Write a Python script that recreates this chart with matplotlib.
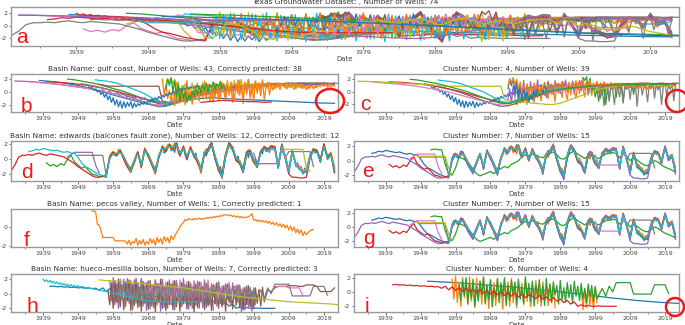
import numpy as np
import matplotlib
matplotlib.use("Agg")
import matplotlib.pyplot as plt
from matplotlib.patches import Ellipse

plt.rcParams["axes.unicode_minus"] = False

# ---------------- data: each well = list of (start_year, step_years, values) ----------------
# Gulf coast basin wells
gc_blue = [(1938, 2, [1.8, 1.7, 1.6, 1.45, 1.3, 1.1, 0.9, 0.6, 0.3, 0.0, -0.3, -0.6, -0.9, -1.2, -1.5, -1.8,
                      -2.0, -2.2, -2.1, -1.8, -1.5, -1.3, -1.1, -1.0, -0.9, -0.9, -1.0, -1.05, -1.1, -1.15,
                      -1.2, -1.25, -1.3, -1.35, -1.4, -1.45, -1.5, -1.55, -1.6, -1.65, -1.7, -1.72, -1.75])]
gc_orange = [(1973, 0.5, [2.0, -0.5, 1.2, -1.0, 0.3, -1.8, 0.8, -1.2, 1.5, -0.8, 0.2, -1.5, 1.0, -0.6, 1.8, -1.0,
                          0.5, -1.9, 0.9, -0.3, 1.4, -1.2, 0.6, -0.8, 1.7, -0.4, 1.1, -1.5, 0.3, 1.5, -0.7, 1.0,
                          -1.3, 1.6, 0.0, 1.2, -0.9, 1.8, -0.2, 0.9, -1.6, 1.3, 0.2, 1.9, -0.5, 1.0, -1.8, 1.5,
                          -0.3, 2.0, -1.0, 0.8, -1.4, 1.7, 0.1, 1.2, -0.6, 1.9, -1.2, 0.7, 1.5, -0.4, 1.1, 0.3,
                          1.4, 0.6, 1.2, 0.4, 1.3, 0.8, 1.1, 0.5, 1.3, 0.7, 1.0, 0.4, 1.2, 0.9, 1.3, 0.6, 1.1,
                          0.8, 1.2, 0.5, 1.0, 0.9, 1.3, 0.7, 1.1])]
gc_green = [(1946, 2, [2.0, 1.9, 1.7, 1.5, 1.3, 1.0, 0.7, 0.4, 0.1, -0.3, -0.7, -1.1, -1.5, -1.8, -1.9, -1.6,
                       -1.2, -0.8, -0.5, -0.2, 0.1, 0.3, 0.5, 0.6, 0.7, 0.8, 0.9, 1.0, 1.0, 1.1, 1.1, 1.1,
                       1.2, 1.2, 1.1, 1.2, 1.2, 1.1])]
gc_red = [(1940, 2, [1.6, 1.55, 1.5, 1.4, 1.3, 1.15, 1.0, 0.8, 0.6, 0.35, 0.1, -0.2, -0.5, -0.8, -1.1, -1.4,
                     -1.6, -1.7, -1.5, -1.2, -0.9, -0.6, -0.3, 0.0, 0.2, 0.4, 0.6, 0.7, 0.8, 0.9, 1.0, 1.1,
                     1.15, 1.2, 1.2, 1.25, 1.3, 1.3, 1.25, 1.3, 1.3, 1.2])]
gc_purple = [(1931, 1, [1.7, 1.7, 1.68, 1.65, 1.62, 1.6, 1.55, 1.5, 1.45, 1.4, 1.35, 1.3, 1.22, 1.15, 1.08, 1.0,
                        0.92, 0.85, 0.78, 0.7, 0.62, 0.55, 0.45, 0.35,
                        0.1, 0.35, -0.1, 0.1, -0.35, -0.1, -0.55, -0.3, -0.75, -0.5, -0.95, -0.7, -1.15, -0.9,
                        -1.35, -1.1, -1.5, -1.3, -1.7, -1.5, -1.6,
                        -1.5, -1.4, -1.3, -1.2, -1.0, -0.9, -0.8, -0.6, -0.5, -0.4, -0.3, -0.2, -0.1, 0.0, 0.1,
                        0.2, 0.3, 0.35, 0.4, 0.5, 0.55, 0.6, 0.7, 0.75, 0.8, 0.85, 0.9, 0.95, 1.0, 1.0, 1.05,
                        1.1, 1.1, 1.1, 1.15, 1.2, 1.2, 1.2, 1.25, 1.2, 1.25, 1.3, 1.25, 1.3, 1.3, 1.25, 1.3])]
gc_brown = [(1955, 1, [1.2, 1.1, 1.0, 0.9, 0.9, 0.9, 0.9, 0.9, 0.9, 0.9, 0.9, 0.9, 0.9, 0.9, 0.9, 0.9, 0.9, 0.9,
                       -1.4, -1.6, -1.7, -1.6, -1.4, -1.2, -1.0, -0.8, -0.6, -0.4, -0.2, 0.0, 0.2, 0.3, 0.4,
                       0.5, 0.6, 0.7, 0.8, 0.85, 0.9, 0.95, 1.0, 1.05, 1.1, 1.1, 1.15, 1.2, 1.2, 1.2, 1.25,
                       1.3, 1.3, 1.35, 1.3, 1.35, 1.4, 1.4, 1.35, 1.4, 1.4, 1.35, 1.4, 1.4, 1.4, 1.35, 1.4,
                       1.4, 1.3, 1.35])]
gc_pink = [(1935, 2, [1.6, 1.5, 1.4, 1.3, 1.2, 1.1, 0.95, 0.8, 0.6, 0.4, 0.2, 0.0, -0.3, -0.6, -0.9, -1.2,
                      -1.5, -1.8, -2.0, -1.9, -1.6, -1.3, -1.0, -0.7, -0.4, -0.2, 0.0, 0.2, 0.4, 0.5, 0.6,
                      0.7, 0.8, 0.9, 1.0, 1.0, 1.1, 1.1, 1.2, 1.2])]
gc_gray = [(1950, 2, [1.3, 1.1, 0.9, 0.6, 0.3, 0.0, -0.4, -0.8, -1.2, -1.6, -2.0, -2.3, -2.2, -1.9, -1.5,
                      -1.1, -0.7, -0.4, -0.1, 0.2, 0.4, 0.6, 0.7, 0.9, 1.0, 1.1, 1.2, 1.2, 1.3, 1.3, 1.3,
                      1.4, 1.4, 1.3, 1.4, 1.3, 1.4, 1.3])]
gc_olive = [(1974, 0.5, [1.0, 2.1, 1.5, 2.2, 1.2, 2.0, 0.5, 1.6, -0.2, 1.0, 0.3, 1.3, -0.5, 0.8, 0.2, 1.4, 0.5,
                         1.1, -0.3, 0.9, 0.4, 1.5, 0.6, 1.2, 0.0, 1.0, 0.7, 1.6, 0.3, 1.1, 0.8, 1.7, 0.2, 1.2,
                         0.9, 1.5, 0.4, 1.3, 1.0, 1.8, 0.5, 1.4, 0.9, 2.0, 0.3, 1.5, 1.1, 1.8, 0.6, 1.3, 1.0,
                         1.6, 0.7, 1.4, 1.1, 1.5, 0.8, 1.3, 1.0, 1.4, 0.9, 1.2, 0.5, 1.3, 0.9, 1.4, 1.0, 1.2,
                         0.6, 1.1, 0.8, 1.3, 0.9, 1.0, 0.5, 0.9, 0.7, 1.1, 0.6, 0.8, 0.4, 0.7])]
gc_cyan = [(1954, 1, [1.9, 1.8, 1.75, 1.7, 1.6, 1.5, 1.4, 1.2, 1.0, 0.8, 0.6, 0.4, 0.2, 0.0, -0.3, -0.6, -0.9,
                      -1.2, -1.5, -1.7, -1.8, -1.6, -1.4, -1.2, -1.0, -0.8, -0.6, -0.4, -0.2, 0.0, 0.1, 0.2,
                      0.3, 0.4, 0.5, 0.6, 0.7])]
gc_blue2 = [(1952, 0.5, [0.8, 0.6, 0.7, 0.3, 0.5, 0.0, 0.3, -0.4, 0.0, -0.8, -0.3, -1.2, -0.6, -1.6, -0.9, -2.0,
                         -1.2, -2.3, -1.4, -2.5, -1.5, -2.4, -1.6, -2.2, -1.5, -2.5, -1.7, -2.3, -1.8, -2.1,
                         -1.7, -1.9, -1.5, -1.8, -1.3, -1.6, -1.1, -1.4, -0.9, -1.2, -0.7, -1.0, -0.5, -0.8,
                         -0.3, -0.6, -0.1, -0.4, 0.1, -0.2, 0.3, 0.0, 0.5, 0.2, 0.6, 0.4, 0.7, 0.5, 0.8, 0.6,
                         0.9, 0.7, 1.0, 0.8])]
gc_orange2 = [(1976, 0.5, [-1.0, -2.1, -0.5, -1.8, 0.2, -1.5, -0.3, -2.0, 0.5, -1.2, -0.1, -1.7, 0.8, -0.9, 0.1,
                           -1.4, 1.0, -0.6, 0.3, -1.1, 1.2, -0.4, 0.5, -1.6, 1.4, -0.2, 0.6, -0.9, 1.5, 0.0,
                           -1.2, 1.1, -0.5, 1.6, 0.2, -1.0, 1.3, -0.3, 1.8, 0.4, -0.8, 1.5, 0.0, 1.9, -0.6,
                           1.2, 0.3, 1.7, -0.2, 1.4, 0.5, 1.6, 0.8, 1.3, 0.6, 1.5, 0.9, 1.2, 0.7, 1.4, 0.8,
                           1.3, 1.0, 1.2, 0.9, 1.4, 0.8, 1.1, 1.0, 1.3, 0.7, 1.2, 0.9, 1.1, 0.6, 1.0, 0.4,
                           0.9, 0.6, 1.1, 0.5, 0.9, 0.7, 1.0, 0.8, 1.2, 0.9, 1.3, 0.7, 1.0, 0.8, 1.1, 0.9])]
gc_green2 = [(1974, 0.5, [0.5, 2.0, 1.0, 2.2, 0.0, 1.8, -0.8, 1.2, -1.5, 0.6, -1.0, 0.0, -1.6, -0.5, -1.2, 0.2,
                          -0.8, 0.5, -0.4, 0.9, -0.2, 1.1, 0.3, 1.4, 0.0, 1.2, 0.6, 1.5, 0.4, 1.3, 0.8, 1.6,
                          0.5, 1.2])]
gc_red2 = [(1984, 2, [-1.6, -1.5, -1.4, -1.3, -1.35, -1.4, -1.45, -1.5, -1.5, -1.6, -1.55])]

# extra wells of cluster 4
c_olive = [(1931, 1, [1.7, 1.7, 1.68, 1.66, 1.64, 1.62, 1.6, 1.57, 1.54, 1.5, 1.47, 1.44, 1.4, 1.37, 1.34, 1.3,
                      1.27, 1.24, 1.2, 1.17, 1.14, 1.1, 1.05, 1.0, 0.95,
                      0.9, 0.9, 0.9, 0.9, 0.9, 0.9, 0.9, 0.9, 0.9, 0.9, 0.9, 0.9, 0.9, 0.9, 0.9, 0.9, 0.9,
                      -1.2, -1.4, -1.5, -1.5, -1.6, -1.6, -1.7, -1.7, -1.8, -1.8, -1.9, -1.9, -2.0, -2.0, -2.0,
                      -1.9, -1.8, -1.6, -1.4, -1.2, -1.0, -0.8, -0.6, -0.4, -0.2, 0.0, 0.2, 0.4,
                      0.5, 0.6, 0.7, 0.8, 0.9, 1.0, 1.0, 1.1, 1.1, 1.1, 1.2, 1.2, 1.2, 1.2, 1.2, 1.1, 1.1,
                      1.0, 1.0, 0.9, 0.9, 0.9])]
c_green_noisy = [(1990, 0.5, [0.5, 1.2, 0.3, 1.0, 0.6, 1.4, 0.2, 1.1, 0.8, 1.6, 0.4, 2.3, 1.8, 2.4, 0.9, 2.2, 0.0,
                              1.0, -0.8, 0.5, -1.5, 0.8, -0.5, 1.2, -2.0, 0.6, -1.2, 1.0, 0.3, 1.4, -0.9, 1.1,
                              0.5, 1.3, -1.6, 0.9, 0.4, 1.2, 0.7, 1.3, -0.4, 1.1, 0.8, 1.2])]
c_purple_noisy = [(1974, 0.5, [-1.2, 0.5, -1.8, 1.0, -0.8, 1.5, -1.5, 0.2, -0.5, 1.8, -1.0, 0.8, -0.2, 1.6, -1.3,
                               1.0, 0.0, 1.9, -0.6, 1.2, -0.1, 1.5, -0.9, 1.7, 0.2, 1.1, -0.4, 1.8, 0.3, 1.3,
                               -0.2, 1.6, 0.5, 1.9, 0.0, 1.4, 0.4, 1.7, -0.3, 1.5, 0.6, 1.8, 0.2, 1.2, 0.7,
                               1.6, -0.5, 1.0, 0.4, 1.4])]
c_gray_noisy = [(2000, 0.5, [1.0, -1.0, 0.8, -2.2, 0.5, 1.2, -1.5, 0.9, 0.3, -2.0, 1.1, 0.6, -0.8, 1.2, -1.8, 0.9,
                             0.4, 1.3, -1.2, 1.0, 0.2, 1.4, -2.3, 0.8, 1.2, -0.5, 1.3, 0.7, -1.6, 1.1, 0.5, 1.4,
                             -1.0, 1.2, 0.3, 1.0, -2.0, 0.9, 1.3, -0.6, 1.1, 0.4, 1.2, -1.4, 1.0])]

# Edwards (Balcones fault zone) wells
ed_red = [(1930, 1, [-1.5, -0.8, 0.2, 0.5, 0.5, 0.6, 0.5, 0.7, 0.8, 0.6, 0.5, 0.7, 0.6, 0.5, 0.4, 0.3, 0.0, -0.3,
                     -0.6, -1.0, -1.3, -1.6, -1.9, -2.2, -2.4, -2.4, -2.3,
                     -2.4, 0.3, 0.9, 0.5, 1.1, 0.0, -1.0, -1.7, -0.5, 0.9, -1.0, 1.3, 0.4, -0.8, -1.8, 0.2,
                     1.6, 1.0, 1.9, 1.3, 2.1, 0.5, 1.6, 0.0, 1.5, 0.4, -0.4, -1.6, 0.7, 1.3, 2.1, 0.1, -1.5,
                     -2.4, 0.4, 2.1, 1.5, -0.2, -0.6, -1.7, 0.9, 1.1, -0.4, -1.1, 1.0, 1.6, 1.3, 1.7, 1.6,
                     -1.2, 1.9, 0.0, -2.0, -2.4, -2.4, -2.5, -2.5, -2.4, 0.0, 1.3, 1.1, -0.4, 2.0, 0.0, 0.5,
                     -1.8])]
ed_cyan = [(1935, 1, [1.0, 1.1, 1.3, 1.2, 1.4, 1.3, 1.2, 1.1, 1.2, 1.0, 0.9, 1.0, 0.8, 0.8, 0.2, -0.5, -1.0,
                      -1.2, -1.5, -1.8, -2.0, -2.2,
                      -2.3, 0.1, 0.7, 0.7, 0.9, 0.3, -0.7, -1.6, -0.2, 0.7, -0.8, 1.1, 0.6, -0.5, -1.7, 0.4,
                      1.4, 1.3, 1.7, 1.5, 1.9, 0.7, 1.4, 0.3, 1.3, 0.6, -0.1, -1.5, 0.9, 1.1, 1.9, 0.4, -1.2,
                      -2.4, 0.6, 1.9, 1.3, 0.1, -0.3, -1.6, 0.7, 0.9, -0.1, -1.0, 0.8, 1.4, 1.1, 1.5, 1.4,
                      -1.1, 1.7, 0.3, -1.7, 0.9, -0.9, -1.3, -1.9, -1.7, 0.1, 1.1, 0.9, -0.3, 1.7, 0.1, 0.5,
                      -1.5])]
ed_green = [(1940, 1, [-0.5, -0.9, -0.7, -1.0, -0.6, -0.8, 0.0, 0.5, -0.4, -0.8, -1.2, -1.0, -1.5, -2.0, -2.1,
                       -2.3, -2.2,
                       -2.1, 0.0, 0.9, 0.4, 1.2, 0.1, -0.9, -1.3, -0.4, 0.9, -1.1, 1.3, 0.3, -0.7, -1.4, 0.2,
                       1.6, 1.1, 1.9, 1.2, 2.1, 0.5, 1.6, 0.1, 1.5, 0.4, -0.3, -1.3, 0.7, 1.3, 2.1, 0.2, -1.4,
                       -2.0, 0.4, 2.1, 1.5, -0.1, -0.5, -1.4, 0.9, 1.1, -0.3, -0.8, 1.0, 1.6, 1.3, 1.7, 1.6,
                       -0.9, 1.9, 0.1, -1.5, 1.1, -0.7, -1.1, -1.7, -1.5, 0.3, 1.3, 1.1, -0.1, 1.9, 0.3, 0.7,
                       -1.4])]
ed_blue = [(1957, 1, [-2.0, 0.3, 0.7, 0.6, 0.9, 0.3, -0.6, -1.4, -0.2, 0.8, -0.8, 1.1, 0.6, -0.5, -1.5, 0.4, 1.4,
                      1.3, 1.7, 1.5, 1.9, 0.7, 1.4, 0.3, 1.3, 0.6, -0.1, -1.3, 0.9, 1.1, 1.9, 0.4, -1.2, -2.1,
                      0.6, 1.9, 1.3, 0.1, -0.3, -1.4, 0.7, 0.9, -0.1, -0.8, 0.8, 1.4, 1.1, 1.5, 1.4, -0.9,
                      1.7, 0.3, -1.5, 0.9, -0.7, -1.1, -1.7, -1.5, 0.3, 1.1, 0.9, -0.1, 1.7, 0.3, 0.7, -1.3])]
ed_orange = [(1958, 1, [0.2, 1.0, 0.7, 1.2, 0.4, -0.6, -1.2, -0.1, 1.0, -0.6, 1.4, 0.7, -0.4, -1.3, 0.5, 1.7,
                        1.4, 2.0, 1.6, 2.2, 0.8, 1.7, 0.4, 1.6, 0.7, 0.0, -1.1, 1.0, 1.4, 2.2, 0.5, -1.0, -1.9,
                        0.7, 2.2, 1.6, 0.2, -0.2, -1.2, 1.0, 1.2, 0.0, -0.7, 1.1, 1.7, 1.4, 1.8, 1.7, -0.7,
                        2.0, 0.4, -1.2, 1.2, -0.5, -0.9, -1.5, -1.3, 0.5, 1.4, 1.2, 0.1, 2.0, 0.5, 0.9, -1.0])]
ed_purple = [(1946, 1, [0.3, 0.6, 0.9, 0.9, 0.9, 0.9, 0.9, 0.9, -0.8, -1.8]),
             (1999, 1, [0.8, -0.6, -0.6, -0.6, -0.6, -0.6, -0.6, -0.6, 1.2, 0.3])]
ed_brown = [(1985, 1, [0.6, 1.0, 1.8, 0.2, -1.1, -1.8, 0.3, 1.8, 1.2, -0.1, -0.5, -1.3, 0.6, 0.8, -0.2])]
ed_pink = [(2003, 1, [1.0, 1.3, 1.2, -0.8, 1.5, 0.1, -1.3, 0.8, -0.6, -1.0, -1.6, -1.4, 0.2])]
ed_gray = [(1949, 1, [0.5, 0.5, 0.5, 0.5, 0.5, 0.5, 0.5, 0.5, -2.1]),
           (2008, 1, [0.2, 1.0, 1.0, 1.0, 1.0, 1.0, 1.0, 1.0, -1.0])]
ed_olive = [(2007, 1, [1.5, 1.3, 1.3, 1.3, 1.3, 1.3, 1.3, -1.2, -1.6])]
ed_noisy1 = [(1970, 0.5, [-0.6, -1.2, -1.8, -0.8, 0.5, 0.9, 1.7, 0.8, 1.0, 1.6, 2.0, 1.1, 1.5, 0.9, 2.1, 1.3,
                          0.4, 1.0, 1.6, 0.5, -0.1, 0.8, 1.6, 1.0, 0.3, 0.8, -0.5, -0.9, -1.7, -0.5, 1.0, 0.4,
                          1.3, 1.9, 2.2, 1.1, 0.0, -0.6, -1.5, -1.0, -2.4, -1.1, 0.6, 1.3, 2.2, 1.8, 1.2, 0.5,
                          -0.2, 0.4, -0.6, -1.1, -1.8, -0.6, 1.0, 0.2, 1.2, 0.6, -0.4, 0.1, -1.1, 0.0, 1.1,
                          0.7, 1.7, 1.0, 1.4, 0.9, 1.8, 1.3, 1.6, 0.2, -1.2, 0.5, 2.0, 1.0, 0.3, -0.7, -1.9,
                          -0.4, 1.1, 0.2, -1.0, -0.5, -1.4, -1.0, -2.0, -1.2, -1.8, -0.6, 0.4, 0.9, 1.4, 0.8,
                          1.2, 0.4, -0.4, 0.9, 2.0, 1.0, 0.0, 0.3, 0.8, -0.5, -1.8])]
ed_noisy2 = [(1957, 0.5, [-2.2, -1.0, 0.4, 0.9, 1.0, 0.4, 0.7, 1.3, 1.2, 0.5, 0.0, -0.6, -1.0, -1.4, -1.8, -0.9,
                          -0.2, 0.5, 1.0, 0.0, -1.2, 0.3, 1.5, 0.8, 0.3, -0.2, -0.8, -1.4, -2.0, -0.8, 0.5,
                          1.0, 1.8, 1.0, 1.4, 1.9, 2.0, 1.2, 1.6, 2.2, 1.8, 0.8, 0.4, 1.2, 1.8, 0.7, 0.0, 0.9,
                          1.7, 0.9, 0.6, 0.1, -0.4, -1.0, -1.9, -0.4, 0.9, 1.4, 1.0, 1.8, 2.3, 1.0, 0.2, -0.8,
                          -1.6, -2.0, -2.6, -0.6, 0.8, 1.6, 2.1, 1.5, 1.3, 0.6, 0.1, -0.4, -0.2, -1.3, -1.6,
                          0.1, 0.9, 1.3, 0.8, 0.0, -0.5, -0.7, -1.0])]

# extra wells of cluster 7
c7_green = [(1952, 1, [1.5, 1.6, 1.5, 1.5, -0.5, -1.8, -2.0, -1.0, 0.5, 0.3,
                       0.0, -0.5, -1.2, -1.8, -2.1, -1.9, -1.7, -1.5, -1.8, -1.3, -1.1, -0.8, -1.0, -0.5,
                       -0.3, 0.0, 0.5, 0.8, 0.6, 0.9, 0.7, 0.5, 0.4, 0.8, 1.0, 1.2, 0.8, 0.3, 0.2,
                       0.6, 1.1, 1.3, 0.9, 0.6, 0.3, 0.7, 0.9, 0.5, 0.3, 0.6, 0.9, 1.0, 1.1, 1.0,
                       0.4, 0.9, 0.6, 0.0, 0.4, 0.1, -0.3, -0.6, -0.7, -0.4, 0.0, -0.2, -0.6, -0.9, -1.1,
                       -1.3, -1.6])]
c7_olive = [(1948, 1, [0.6, 0.6, 0.6, 0.6, 0.6, 0.6, 0.6, 0.6, 0.6, -1.0, -2.0])]

# Pecos valley well
pecos = [(1953, 0.5, [1.7, 1.7, 1.6, 0.3, 0.2, -0.3, -1.1, -1.1, -1.1, -1.1, -1.1, -1.1, -1.1, -1.45, -1.45,
                      -1.45, -1.45, -1.45, -1.45, -1.5,
                      -1.8, -1.4, -1.9, -1.5, -1.7, -1.2, -1.9, -1.4, -1.8, -1.3, -1.9, -1.5, -1.8, -1.2,
                      -1.7, -1.3, -1.9, -1.1, -1.6, -1.2, -1.8, -1.0, -1.5, -1.1, -1.7, -0.9, -1.3,
                      -1.0, -0.6, -0.3, 0.0, 0.3, 0.5, 0.8, 0.7, 0.9, 0.8, 0.75, 0.9, 0.8, 0.85, 0.95, 0.8,
                      0.9, 0.85, 1.0, 0.9, 1.05, 0.95, 1.1, 1.0, 1.15, 1.05, 1.2, 1.15, 1.3, 1.25, 1.3, 1.2,
                      1.25, 1.1, 1.2, 1.05, 1.15, 1.0, 1.1, 0.95, 1.05, 1.0, 1.1, 1.2, 1.4, 0.7, 0.8, 0.6,
                      0.75, 0.55, 0.7, 0.5, 0.65, 0.4, 0.6, 0.3, 0.5, 0.2, 0.45, 0.1, 0.35, 0.0, 0.3, -0.1,
                      0.2, -0.3, 0.1, -0.4, 0.0, -0.6, -0.2, -0.7, -0.3, -0.9, -0.5, -0.8, -0.6, -0.4, -0.3,
                      -0.25])]

# Hueco-Mesilla bolson wells
hu_blue = [(1941, 1, [1.0, 1.05, 0.95, 1.0, 0.9, 0.95, 0.85, 0.9, 0.8, 0.85, 0.75, 0.8, 0.7, 0.75,
                      0.5, 0.8, 0.3, 0.7, 0.2, 0.6, 0.1, 0.5, 0.0, 0.4, -0.1, 0.3, -0.2, 0.2, -0.3, 0.1, -0.4,
                      0.0, -0.5, -0.1, -0.6, -0.2, -0.7, -0.3, -0.8, -0.4, -0.6, -0.9, -0.5, -1.0, -0.7, -1.2,
                      -0.8, -1.3, -1.0, -1.5, -1.2, -1.7, -1.4, -2.0, -1.8,
                      -2.0, -1.9, -2.0, -2.0, -1.95, -2.0, -2.0, -2.0, -2.0, -2.0])]
hu_cyan = [(1939, 0.5, [2.0, 1.7, 1.9, 1.6, 1.8, 1.5, 1.7, 1.4, 1.6, 1.3, 1.5, 1.2, 1.4, 1.1, 1.3, 1.0, 1.25,
                        0.95, 1.15, 0.9, 1.1, 0.85, 1.0]),
           (1951, 2, [0.85, 0.7, 0.5, 0.3, 0.1, -0.1, -0.35, -0.6, -0.8, -0.95, -1.05, -1.1, -1.1, -1.1,
                      -1.1, -1.1, -1.1])]
hu_olive = [(1955, 2, [1.9, 1.8, 1.75, 1.7, 1.6, 1.5, 1.4, 1.3, 1.2, 1.1, 1.0, 0.9, 0.8, 0.65, 0.5, 0.35, 0.2,
                       0.05, -0.1, -0.25, -0.4, -0.5, -0.6, -0.7, -0.8, -0.9, -1.0, -1.1, -1.15, -1.2, -1.25,
                       -1.3, -1.35, -1.4, -1.5])]
hu_brown = [(1957.5, 0.5, [0.5, -1.5, 1.5, -2.0, 1.8, -1.2, 2.0, -1.8, 1.2, -2.2, 1.6, -1.0, 1.9, -2.3, 1.3,
                           -1.6, 2.1, -1.9, 0.9, -2.4, 1.7, -1.3, 1.5, -2.1, 1.8, -1.7, 1.1, -2.5, 1.4, -1.2,
                           2.0, -2.0, 1.0, -2.3, 1.6, -1.5, 1.3, -2.2, 1.8, -1.8, 0.8, -2.4, 1.5, -1.4, 1.2,
                           -2.1, 1.7, -1.6, 0.9, -2.5, 1.3, -1.9, 1.6, -1.1, 1.0, -2.2, 1.4, -1.7, 0.7, -2.3,
                           1.2, -1.4, 1.5, -2.0, 0.8, -1.8, 1.1, -2.4, 1.3, -1.2, 0.6, -2.1, 1.0, -1.6, 1.2,
                           -1.9, 0.5, -2.2, 0.9, -1.5, 1.1, -1.8, 0.4, -2.0, 0.8, -1.3, 0.6, -1.7, 0.9, -1.1]),
            (2003, 1, [0.5, 0.3, 0.8, 1.0, 1.0, 1.0, 1.1, 1.1, 1.1, 1.0, 1.0, 1.2, 1.2, 1.2, 1.0, 0.3, 0.3,
                       0.3, 0.3, 0.8])]
hu_purple = [(1958, 0.5, [1.8, -1.0, 2.2, -1.5, 1.4, -2.0, 2.0, -0.8, 1.6, -1.8, 2.1, -1.3, 1.2, -2.2, 1.9,
                          -1.0, 1.5, -1.7, 2.0, -1.4, 1.0, -2.3, 1.7, -0.9, 1.3, -1.9, 1.8, -1.2, 0.9, -2.4,
                          1.6, -1.1, 1.4, -2.0, 1.9, -1.5, 1.1, -2.2, 1.5, -0.8, 1.2, -1.8, 1.7, -1.3, 0.8,
                          -2.1, 1.3, -1.0, 1.6, -1.6, 1.0, -2.0, 1.4, -1.2, 0.7, -1.9, 1.1, -1.4, 0.9, -2.2]),
             (1995, 0.5, [0.5, -2.5, 0.3, -2.2, 0.6, -1.8, 0.2, -2.4, 0.8, -1.5])]
hu_gray = [(1960, 0.5, [1.0, -1.2, 1.6, -0.5, 2.0, -1.6, 1.2, -0.9, 1.8, -2.0, 0.8, -1.3, 1.5, -0.4, 2.1, -1.7,
                        1.0, -1.1, 1.7, -2.1, 0.6, -0.8, 1.9, -1.5, 1.3, -0.6, 2.0, -1.9, 0.9, -1.2, 1.6, -0.3,
                        1.4, -1.8, 1.8, -1.0, 0.7, -1.6, 2.1, -0.7, 1.2, -1.4, 1.5, -2.0, 1.0, -0.5, 1.7,
                        -1.3, 0.8, -1.9, 1.9, -0.9, 1.1, -1.5, 1.4, -0.4, 0.9, -1.7, 1.6, -1.1, 0.6, -1.4,
                        1.3, -0.8, 1.0, -1.6, 1.5, -0.6, 0.8, -1.2, 1.2, -1.0, 0.5, -1.5, 1.1, -0.7, 0.9,
                        -1.3, 0.7, -1.0]),
           (2001, 1, [0.5, -0.6, 0.8, 0.0, 1.3, 1.3, 1.3, 1.3, 1.3, -0.3, -0.3, -0.3, -0.3, -0.3, -0.3,
                      1.0, 1.0, 1.0, 1.0, -0.2])]
hu_pink = [(1968, 0.5, [1.5, -0.5, 1.8, 0.2, 1.2, -1.0, 1.9, -0.2, 1.4, 0.5, 2.0, -0.8, 1.6, 0.0, 1.1, -1.2,
                        1.8, 0.3, 1.5, -0.5, 1.9, -0.1, 1.3, 0.4, 1.7, -0.9, 1.4, 0.1, 1.8, -0.4, 1.2, 0.6,
                        1.6, -0.7, 1.5, 0.2, 1.9, -0.3, 1.0, 0.5, 1.3, -0.6, 1.7, 0.0, 1.1, -1.0, 1.4, 0.3,
                        1.6, -0.2, 0.9, 0.6, 1.2, -0.4, 1.0, 0.2, 0.8, -0.5, 0.6, 0.1]),
           (2005, 1, [1.0, 1.0, 1.0, 1.0, 0.8, 0.8, 0.8, 0.8, -0.3])]

# extra well of cluster 6
i_blue = [(1951, 4, [1.5, 1.4, 1.3, 1.15, 1.0, 0.85, 0.7, 0.5, 0.3, 0.1, -0.1, -0.3, -0.55, -0.8, -1.0,
                     -1.2, -1.35, -1.5, -1.6])]

# groupings shown in the panels
gulf_coast = [gc_blue, gc_orange, gc_green, gc_red, gc_purple, gc_brown, gc_pink, gc_gray, gc_olive,
              gc_cyan, gc_blue2, gc_orange2, gc_green2, gc_red2]
cluster4 = [gc_blue2, gc_orange2, c_green_noisy, gc_red, c_purple_noisy, gc_gray, gc_pink, c_gray_noisy,
            c_olive, gc_cyan, gc_green2, gc_olive, gc_green]
edwards = [ed_blue, ed_orange, ed_green, ed_red, ed_purple, ed_brown, ed_pink, ed_gray, ed_olive, ed_cyan,
           ed_noisy1, ed_noisy2]
cluster7 = [ed_cyan, ed_orange, c7_green, ed_green, ed_red, ed_brown, ed_purple, ed_gray, c7_olive, ed_blue,
            ed_noisy2, ed_noisy1]
pecos_valley = [pecos]
hueco = [hu_blue, hu_purple, hu_brown, hu_pink, hu_gray, hu_olive, hu_cyan]
cluster6 = [i_blue, hu_purple, hu_gray, hu_blue]
all_wells = (gulf_coast + edwards + pecos_valley + hueco
             + [c_olive, c_green_noisy, c_purple_noisy, c_gray_noisy, c7_green, c7_olive, i_blue])

titles = {
    "a": "Texas Groundwater Dataset: , Number of Wells: 74",
    "b": "Basin Name: gulf coast, Number of Wells: 43, Correctly predicted: 38",
    "c": "Cluster Number: 4, Number of Wells: 39",
    "d": "Basin Name: edwards (balcones fault zone), Number of Wells: 12, Correctly predicted: 12",
    "e": "Cluster Number: 7, Number of Wells: 15",
    "f": "Basin Name: pecos valley, Number of Wells: 1, Correctly predicted: 1",
    "g": "Cluster Number: 7, Number of Wells: 15",
    "h": "Basin Name: hueco-mesilla bolson, Number of Wells: 7, Correctly predicted: 3",
    "i": "Cluster Number: 6, Number of Wells: 4",
}
year_ticks = [1939, 1949, 1959, 1969, 1979, 1989, 1999, 2009, 2019]
minor_ticks = [1934, 1944, 1954, 1964, 1974, 1984, 1994, 2004, 2014]

# ---------------- style ----------------
TAB = ["#1f77b4", "#ff7f0e", "#2ca02c", "#d62728", "#9467bd",
       "#8c564b", "#e377c2", "#7f7f7f", "#bcbd22", "#17becf"]
pecos_colors = [TAB[1]]
hueco_colors = [TAB[0], TAB[4], TAB[5], TAB[6], TAB[7], TAB[8], TAB[9]]
underlay_ids = {id(ed_noisy1), id(ed_noisy2)}   # drawn beneath the other lines


def well_xy(well):
    xs, ys = [], []
    prev_end = None
    for start, step, vals in well:
        if prev_end is not None and start - prev_end > 3:
            xs.append(np.nan)
            ys.append(np.nan)
        for k, v in enumerate(vals):
            xs.append(start + k * step)
            ys.append(v)
        prev_end = start + (len(vals) - 1) * step
    return xs, ys


W, H = 685, 325
fig = plt.figure(figsize=(W / 100, H / 100), dpi=100)
fig.patch.set_facecolor("white")


def px_axes(x0, y0, x1, y1):
    return fig.add_axes([x0 / W, 1 - y1 / H, (x1 - x0) / W, (y1 - y0) / H])


panels = {
    "a": ((11, 7, 679, 46), all_wells, None, (-3.2, 3.0), [-2, 0, 2]),
    "b": ((11, 74, 338, 112), gulf_coast, None, (-3.1, 2.8), [-2, 0, 2]),
    "c": ((354, 74, 679, 112), cluster4, None, (-3.2, 2.85), [-2, 0, 2]),
    "d": ((11, 141, 338, 181), edwards, None, (-2.9, 2.4), [-2, 0, 2]),
    "e": ((354, 141, 679, 181), cluster7, None, (-2.8, 2.7), [-2, 0, 2]),
    "f": ((11, 209, 338, 247), pecos_valley, pecos_colors, (-2.1, 1.9), [-2, 0]),
    "g": ((354, 209, 679, 247), cluster7, None, (-2.9, 2.6), [-2, 0, 2]),
    "h": ((11, 274, 338, 312), hueco, hueco_colors, (-2.5, 2.7), [-2, 0, 2]),
    "i": ((354, 274, 679, 312), cluster6, None, (-2.8, 2.5), [-2, 0, 2]),
}

for key, (rect, wells, colors, ylim, yticks) in panels.items():
    ax = px_axes(*rect)
    ax.set_prop_cycle(color=colors if colors is not None else TAB)
    for w in wells:
        x, y = well_xy(w)
        z = 1.5 if (id(w) in underlay_ids and key != "a") else 2
        ax.plot(x, y, lw=0.9, zorder=z)
    ax.set_xlim(1929.9, 2023.0)
    ax.set_ylim(*ylim)
    ax.set_yticks(yticks)
    ax.set_xticks(year_ticks)
    ax.set_xticklabels([str(t) for t in year_ticks])
    ax.set_xticks(minor_ticks, minor=True)
    ax.tick_params(axis="both", which="major", labelsize=4.5, length=1.8, width=0.5, pad=1.0,
                   colors="#333333", labelcolor="#444444")
    ax.tick_params(axis="x", which="minor", length=1.2, width=0.4, colors="#333333")
    for s in ax.spines.values():
        s.set_color("#9a9a9a")
        s.set_linewidth(1.0)
    ax.set_title(titles[key], fontsize=5.3, pad=2.5, color="#333333")
    ax.set_xlabel("Date", fontsize=5.0, labelpad=0.5, color="#444444")

# panel letters (figure pixel positions, baseline)
letters = {"a": (16, 43), "b": (21, 112), "c": (360, 110), "d": (21, 178), "e": (362, 177),
           "f": (24, 246), "g": (363, 244), "h": (26, 312), "i": (365, 312)}
for k, (x, y) in letters.items():
    fig.text(x / W, 1 - y / H, k, color="#f01919", fontsize=15, family="Liberation Sans",
             ha="left", va="baseline", zorder=10)

# red highlight circles
for (cx, cy, rx, ry) in [(330, 101, 14, 12), (677, 101, 11, 11), (675, 307, 9, 9)]:
    e = Ellipse((cx / W, 1 - cy / H), 2 * rx / W, 2 * ry / H, transform=fig.transFigure,
                fill=False, edgecolor="#f01919", lw=1.8)
    fig.add_artist(e)

fig.savefig("out.png", dpi=100)
